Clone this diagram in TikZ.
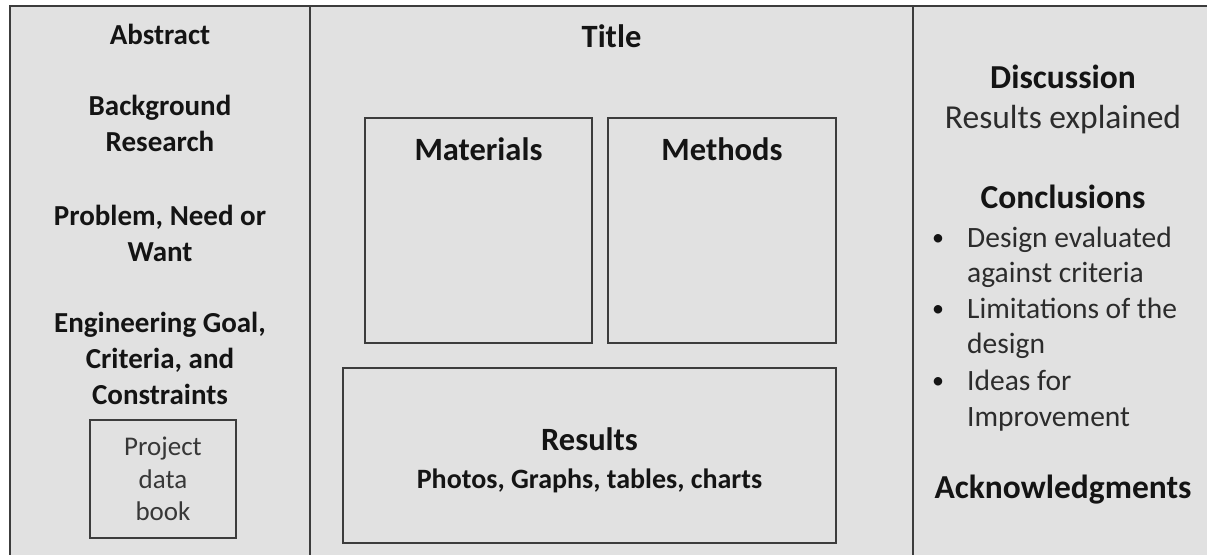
\documentclass[tikz,border=0pt]{standalone}
\usepackage{fontspec}
\setmainfont{Carlito}
\definecolor{panelfill}{HTML}{E1E1E1}
\definecolor{edge}{HTML}{3C3C3C}
\definecolor{ink}{HTML}{141414}
\begin{document}
\begin{tikzpicture}[x=1pt,y=-1pt,
  frame/.style={draw=edge,line width=2pt},
  boxx/.style={draw=edge,line width=1.8pt},
  lbold/.style={anchor=base,inner sep=0pt,text=ink,font=\fontsize{29}{34}\selectfont\bfseries},
  small/.style={anchor=base,inner sep=0pt,text=ink!85,font=\fontsize{27}{32}\selectfont},
  big/.style={anchor=base,inner sep=0pt,text=ink,font=\fontsize{32.5}{38}\selectfont\bfseries},
  rbold/.style={anchor=base,inner sep=0pt,text=ink,font=\fontsize{33.5}{40}\selectfont\bfseries},
  rreg/.style={anchor=base,inner sep=0pt,text=ink!90,font=\fontsize{33.5}{40}\selectfont},
  bul/.style={anchor=base west,inner sep=0pt,text=ink!90,font=\fontsize{29.5}{35}\selectfont},
  dot/.style={anchor=base,inner sep=0pt,text=ink,font=\fontsize{24}{30}\selectfont},
  sub/.style={anchor=base,inner sep=0pt,text=ink,font=\fontsize{28}{34}\selectfont\bfseries}]
\useasboundingbox (0,0) rectangle (1207,554);
\fill[white] (0,0) rectangle (1207,554);
% outer panel
\draw[frame,fill=panelfill] (10,6) rectangle (1230,570);
\draw[frame] (310,6) -- (310,570);
\draw[frame] (913,6) -- (913,570);
% left column
\node[lbold] (abs) at (160,44) {Abstract};
\node[lbold] (bg1) at (160,115) {Background};
\node[lbold] (bg2) at (160,151) {Research};
\node[lbold] (pn1) at (160,225) {Problem, Need or};
\node[lbold] (pn2) at (160,261) {Want};
\node[lbold] (eg1) at (160,332) {Engineering Goal,};
\node[lbold] (eg2) at (160,368) {Criteria, and};
\node[lbold] (eg3) at (160,404) {Constraints};
\draw[boxx] (90,420) rectangle (236,538);
\node[small] (pd1) at (163,455) {Project};
\node[small] (pd2) at (163,488) {data};
\node[small] (pd3) at (163,520) {book};
% middle column
\node[big] (title) at (611.5,47) {Title};
\draw[boxx] (365,118) rectangle (592,343);
\node[big] (mat) at (478.5,160) {Materials};
\draw[boxx] (608,118) rectangle (836,343);
\node[big] (meth) at (722,160) {Methods};
\draw[boxx] (343,368) rectangle (836,543);
\node[big] (res) at (589.5,450) {Results};
\node[sub] (resd) at (589.5,488) {Photos, Graphs, tables, charts};
% right column
\node[rbold] (disc) at (1063,88) {Discussion};
\node[rreg] (disce) at (1063,128) {Results explained};
\node[rbold] (conc) at (1063,208) {Conclusions};
\node[dot] (b1) at (938,245) {•};
\node[bul] (c1) at (967,247) {Design evaluated};
\node[bul] (c2) at (967,282) {against criteria};
\node[dot] (b2) at (938,316) {•};
\node[bul] (c3) at (967,318) {Limitations of the};
\node[bul] (c4) at (967,353) {design};
\node[dot] (b3) at (938,388) {•};
\node[bul] (c5) at (967,390) {Ideas for};
\node[bul] (c6) at (967,426) {Improvement};
\node[rbold] (ack) at (1063,498) {Acknowledgments};
\end{tikzpicture}
\end{document}
